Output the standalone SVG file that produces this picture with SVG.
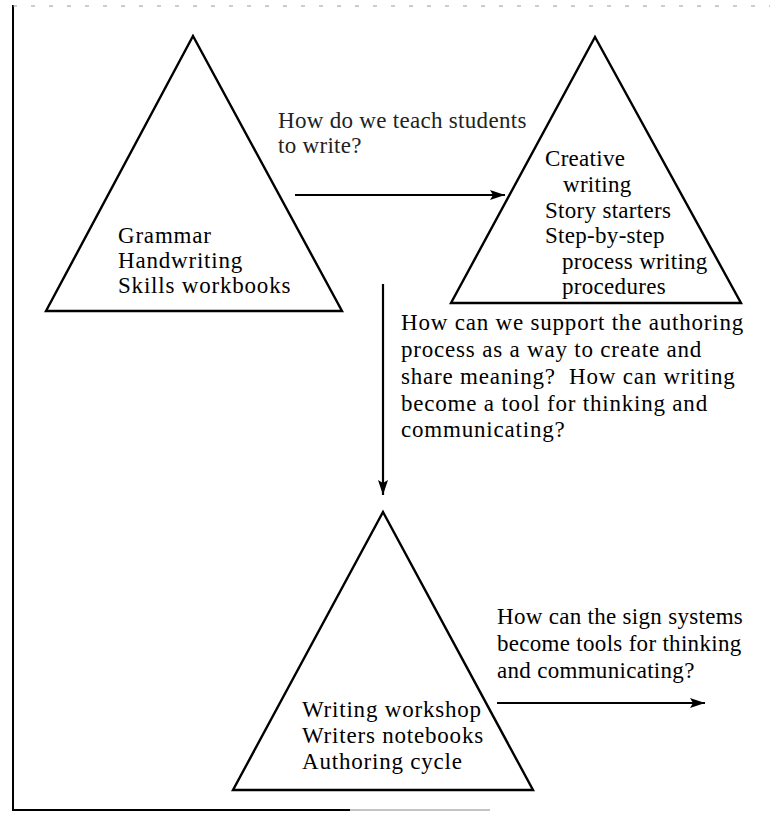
<svg xmlns="http://www.w3.org/2000/svg" width="772" height="821" viewBox="0 0 772 821">
<defs>
<marker id="ah" viewBox="0 0 15 10" refX="15" refY="5" markerWidth="15" markerHeight="10" markerUnits="userSpaceOnUse" orient="auto">
<path d="M0,0 L15,5 L0,10 L3,5 Z" fill="#000"/>
</marker>
<style>
.tri{fill:none;stroke:#000;stroke-width:2.4;stroke-linejoin:miter}
.t{font-family:"Liberation Serif","Times New Roman",serif;font-size:23px;letter-spacing:0.8px;fill:#000}
.tn{letter-spacing:0.3px}
.t2{fill:#222}
.c{stroke:#000;stroke-width:2.2;fill:none}
.frame{stroke:#000;stroke-width:2;fill:none}
</style>
</defs>
<rect width="772" height="821" fill="#fff"/>
<g id="frame">
<line class="frame" x1="13" y1="5" x2="13" y2="810"/>
<line class="frame" x1="12" y1="810" x2="350" y2="810"/>
<line x1="350" y1="810" x2="490" y2="810" stroke="#888" stroke-width="1.2"/>
<line x1="13" y1="6" x2="770" y2="6" stroke="#999" stroke-width="1.2" stroke-dasharray="4 14"/>
</g>
<g id="node-traditional">
<polygon class="tri" points="193,36 342,311 46,311"/>
<text class="t"><tspan x="118" y="243">Grammar</tspan><tspan x="118" y="268">Handwriting</tspan><tspan x="118" y="293">Skills workbooks</tspan></text>
</g>
<g id="node-process">
<polygon class="tri" points="595,37 741,303 451,303"/>
<text class="t tn"><tspan x="545" y="166">Creative</tspan><tspan x="563" y="192">writing</tspan><tspan x="545" y="218">Story starters</tspan><tspan x="545" y="243">Step-by-step</tspan><tspan x="562" y="269">process writing</tspan><tspan x="562" y="294">procedures</tspan></text>
</g>
<g id="node-authoring">
<polygon class="tri" points="383,512 533,790 233,790"/>
<text class="t"><tspan x="302" y="717">Writing workshop</tspan><tspan x="302" y="743">Writers notebooks</tspan><tspan x="302" y="769">Authoring cycle</tspan></text>
</g>
<g id="connectors">
<line class="c" x1="295" y1="195" x2="505" y2="195" marker-end="url(#ah)"/>
<line class="c" x1="383" y1="284" x2="383" y2="495" marker-end="url(#ah)"/>
<line class="c" x1="497" y1="703" x2="705" y2="703" marker-end="url(#ah)"/>
</g>
<g id="labels">
<text class="t tn t2"><tspan x="278" y="128">How do we teach students</tspan><tspan x="278" y="153">to write?</tspan></text>
<text class="t"><tspan x="401" y="330">How can we support the authoring</tspan><tspan x="401" y="357">process as a way to create and</tspan><tspan x="401" y="384">share meaning?&#160; How can writing</tspan><tspan x="401" y="411">become a tool for thinking and</tspan><tspan x="401" y="437">communicating?</tspan></text>
<text class="t tn"><tspan x="497" y="624">How can the sign systems</tspan><tspan x="497" y="651">become tools for thinking</tspan><tspan x="497" y="678">and communicating?</tspan></text>
</g>
</svg>
